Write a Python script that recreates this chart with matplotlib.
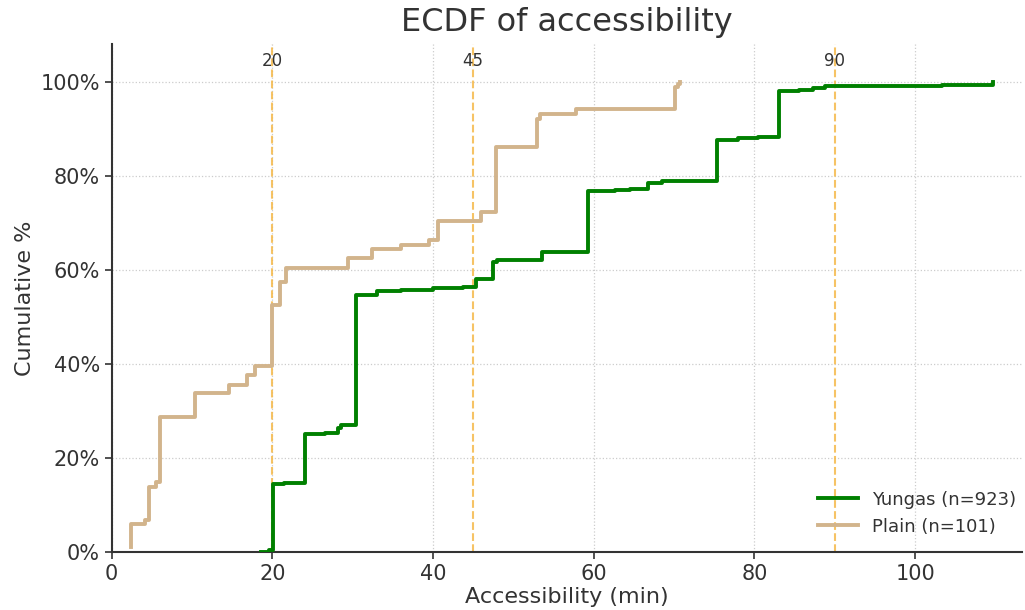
import matplotlib.pyplot as plt
from matplotlib.ticker import PercentFormatter

# step points (x = minutes, y = cumulative fraction)
yungas_x = [18.6, 19.6, 20.1, 21.5, 24.0, 26.5, 28.2, 28.6, 30.4, 33.0, 36.0, 40.0,
            43.7, 45.4, 47.4, 48.0, 52.9, 53.6, 59.3, 62.6, 64.5, 66.8, 68.5, 75.3,
            78.0, 80.5, 83.1, 85.5, 87.3, 88.8, 103.3, 109.7]
yungas_y = [0.001, 0.004, 0.144, 0.146, 0.251, 0.253, 0.263, 0.270, 0.547, 0.555,
            0.558, 0.561, 0.564, 0.581, 0.616, 0.620, 0.621, 0.637, 0.767, 0.770,
            0.772, 0.785, 0.788, 0.875, 0.881, 0.883, 0.979, 0.983, 0.987, 0.990,
            0.992, 1.000]

plain_x = [2.4, 2.4, 4.1, 4.7, 5.5, 6.0, 10.4, 14.6, 16.8, 17.8, 19.9, 21.0, 21.7,
           29.4, 32.4, 36.0, 39.5, 40.6, 46.0, 47.8, 52.9, 53.3, 57.8, 70.1, 70.5, 70.7]
plain_y = [0.010, 0.059, 0.069, 0.139, 0.149, 0.287, 0.337, 0.356, 0.376, 0.396,
           0.525, 0.574, 0.604, 0.624, 0.644, 0.653, 0.663, 0.703, 0.723, 0.861,
           0.921, 0.931, 0.941, 0.988, 0.994, 1.000]

thresholds = [20, 45, 90]
labels = ["Yungas (n=923)", "Plain (n=101)"]

plt.rcParams['text.color'] = '#333333'
plt.rcParams['axes.labelcolor'] = '#333333'
plt.rcParams['xtick.color'] = '#333333'
plt.rcParams['ytick.color'] = '#333333'

fig = plt.figure(figsize=(10.25, 6.1), dpi=100)
ax = fig.add_axes([0.109, 0.095, 0.888, 0.833])

for t in thresholds:
    ax.axvline(t, color='#f5b94a', linestyle='--', linewidth=1.5, alpha=0.85, zorder=1)
    ax.text(t, 1.043, str(t), ha='center', va='center', fontsize=12)

ax.step(yungas_x, yungas_y, where='post', color='green', linewidth=2.8, label=labels[0], zorder=3)
ax.step(plain_x, plain_y, where='post', color='tan', linewidth=2.8, label=labels[1], zorder=3)

ax.set_xlim(0, 113.3)
ax.set_ylim(0, 1.08)
ax.set_yticks([0, 0.2, 0.4, 0.6, 0.8, 1.0])
ax.yaxis.set_major_formatter(PercentFormatter(1.0, decimals=0))
ax.grid(True, linestyle=':', color='#cccccc', linewidth=0.9)
ax.set_axisbelow(True)
ax.spines['top'].set_visible(False)
ax.spines['right'].set_visible(False)
for s in ['left', 'bottom']:
    ax.spines[s].set_color('#333333')
    ax.spines[s].set_linewidth(1.5)
ax.tick_params(labelsize=15, width=1.2, length=5)

ax.set_title("ECDF of accessibility", fontsize=23, pad=9)
ax.set_xlabel("Accessibility (min)", fontsize=16, labelpad=2)
ax.set_ylabel("Cumulative %", fontsize=16)
ax.legend(loc='lower right', frameon=False, fontsize=13, handlelength=2.2,
          bbox_to_anchor=(1.012, 0.0))

fig.savefig("out.png", dpi=100)
